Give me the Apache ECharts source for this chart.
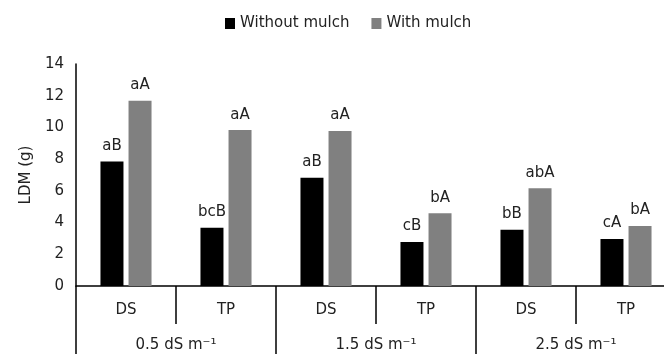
<!DOCTYPE html>
<html><head><meta charset="utf-8">
<script src="https://cdn.jsdelivr.net/npm/echarts@6/dist/echarts.min.js"></script>
<style>html,body{margin:0;padding:0;background:#fff;overflow:hidden;width:664px;height:354px}#c{width:676px;height:354px}</style>
</head><body><div id="c"></div>
<script>
const subCategories = ["DS","TP","DS","TP","DS","TP"];
const groupCategories = ["0.5 dS m\u207B\u00B9","1.5 dS m\u207B\u00B9","2.5 dS m\u207B\u00B9"];
const withoutMulch = [7.85, 3.67, 6.82, 2.78, 3.54, 2.97];
const withMulch = [11.69, 9.83, 9.77, 4.58, 6.16, 3.78];
const withoutLabels = ["aB","bcB","aB","cB","bB","cA"];
const withLabels = ["aA","aA","aA","bA","abA","bA"];
const yTicks = {min:0, max:14, interval:2};

const FONT = "DejaVu Sans";
const FS = 15;
const chart = echarts.init(document.getElementById('c'));
chart.setOption({
  animation:false,
  textStyle:{fontFamily:FONT},
  legend:{top:11, left:220, icon:'rect', itemWidth:10, itemHeight:11, itemGap:22,
    textStyle:{fontSize:FS, color:'#222', fontFamily:FONT},
    data:['Without mulch','With mulch']},
  grid:{left:76, top:64, height:222, right:0},
  xAxis:[{
    type:'category', data:subCategories, position:'bottom',
    axisLine:{show:true, lineStyle:{color:'#000', width:1.5}},
    axisTick:{show:true, alignWithLabel:false, interval:0, length:38, lineStyle:{color:'#000', width:1.5}},
    axisLabel:{margin:17, fontSize:FS, color:'#222', fontFamily:FONT}
  },{
    type:'category', data:groupCategories, position:'bottom',
    axisLine:{show:false},
    axisTick:{show:true, alignWithLabel:false, interval:0, length:70, lineStyle:{color:'#000', width:1.5}},
    axisLabel:{margin:52, fontSize:FS, color:'#222', fontFamily:FONT}
  }],
  yAxis:{type:'value', min:yTicks.min, max:yTicks.max, interval:yTicks.interval,
    name:'LDM (g)', nameLocation:'middle', nameGap:32, nameRotate:90,
    nameTextStyle:{fontSize:FS, color:'#222', fontFamily:FONT},
    axisLine:{show:true, lineStyle:{color:'#000', width:1.5}},
    axisTick:{show:false}, splitLine:{show:false},
    axisLabel:{fontSize:FS, color:'#222', margin:12, fontFamily:FONT}},
  series:[{
    name:'Without mulch', type:'bar', xAxisIndex:0, data:withoutMulch,
    barWidth:23, barGap:'22%', itemStyle:{color:'#000'},
    label:{show:true, position:'top', distance:8, fontSize:FS, color:'#222', fontFamily:FONT,
      formatter:p=>withoutLabels[p.dataIndex]}
  },{
    name:'With mulch', type:'bar', xAxisIndex:0, data:withMulch,
    barWidth:23, barGap:'22%', itemStyle:{color:'#808080'},
    label:{show:true, position:'top', distance:8, fontSize:FS, color:'#222', fontFamily:FONT,
      formatter:p=>withLabels[p.dataIndex]}
  }]
});
</script></body></html>
